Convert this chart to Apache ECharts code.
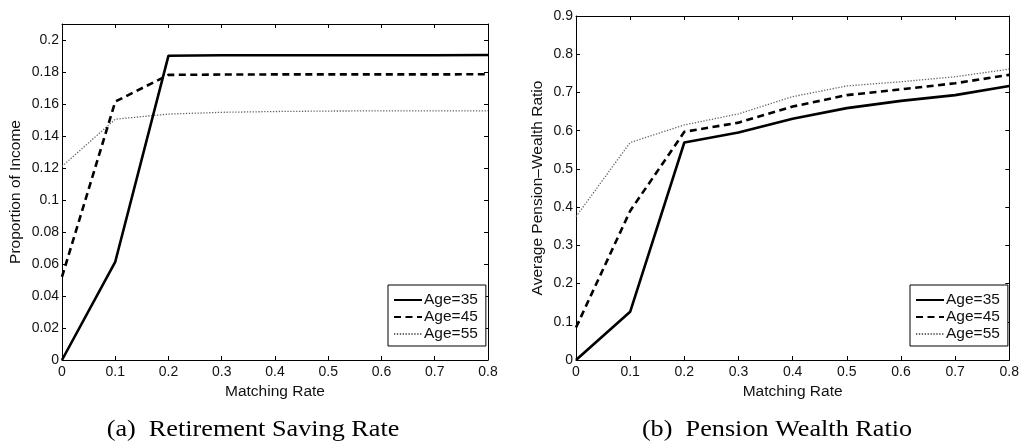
<!DOCTYPE html>
<html>
<head>
<meta charset="utf-8">
<script src="https://cdn.jsdelivr.net/npm/echarts@6/dist/echarts.min.js"></script>
<style>
  html, body { margin: 0; padding: 0; background: #fff; }
  #chart { width: 1022px; height: 441px; }
</style>
</head>
<body>
<div id="chart"></div>
<script>
// Employer matching rate (x axis of both panels)
const matchRates = [0, 0.1, 0.2, 0.3, 0.4, 0.5, 0.6, 0.7, 0.8];

// Panel (a): retirement saving as a proportion of income
const savingAge35 = [0, 0.0614, 0.1902, 0.1905, 0.1905, 0.1905, 0.1905, 0.1905, 0.1906];
const savingAge45 = [0.052, 0.1615, 0.1782, 0.1784, 0.1785, 0.1785, 0.1785, 0.1785, 0.1786];
const savingAge55 = [0.121, 0.1505, 0.1537, 0.1548, 0.1553, 0.1556, 0.1557, 0.1557, 0.1557];

// Panel (b): average pension-wealth ratio
const pensionAge35 = [0, 0.126, 0.569, 0.595, 0.631, 0.659, 0.678, 0.693, 0.717];
const pensionAge45 = [0.085, 0.39, 0.597, 0.621, 0.663, 0.693, 0.708, 0.724, 0.746];
const pensionAge55 = [0.375, 0.569, 0.615, 0.644, 0.689, 0.717, 0.728, 0.741, 0.761];

const seriesNames = ['Age=35', 'Age=45', 'Age=55'];
const xTicks = { min: 0, max: 0.8, interval: 0.1 };
const captions = ['(a)\u2002Retirement Saving Rate', '(b)\u2002Pension Wealth Ratio'];
const yNames = ['Proportion of Income', 'Average Pension\u2013Wealth Ratio'];

const FONT = '"Liberation Sans", Arial, Helvetica, sans-serif';
const SERIF = '"Liberation Serif", "Times New Roman", serif';
const lineStyles = [
  { color: '#000', width: 2.6, type: 'solid' },
  { color: '#000', width: 2.6, type: [7, 4.5] },
  { color: '#666', width: 1.3, type: [1.3, 1.6] }
];

const fmt = v => String(+v.toFixed(2));
const frameLine = { show: true, onZero: false, lineStyle: { color: '#000', width: 1 } };
const innerTick = { show: true, inside: true, length: 4, lineStyle: { color: '#000' } };
const nameStyle = { fontFamily: FONT, fontSize: 15.5, color: '#111' };

function bottomX(grid) {
  return {
    type: 'value', gridIndex: grid, position: 'bottom',
    min: xTicks.min, max: xTicks.max, interval: xTicks.interval,
    name: 'Matching Rate', nameLocation: 'middle', nameGap: 20,
    nameTextStyle: nameStyle,
    axisLine: frameLine, axisTick: innerTick,
    axisLabel: { fontFamily: FONT, fontSize: 14, color: '#111', margin: 5, formatter: fmt },
    splitLine: { show: false }
  };
}
function topX(grid) {
  return {
    type: 'value', gridIndex: grid, position: 'top',
    min: xTicks.min, max: xTicks.max, interval: xTicks.interval,
    axisLine: frameLine, axisTick: innerTick,
    axisLabel: { show: false }, splitLine: { show: false }
  };
}
function leftY(grid, max, interval, name, gap) {
  return {
    type: 'value', gridIndex: grid, position: 'left',
    min: 0, max: max, interval: interval,
    name: name, nameLocation: 'middle', nameGap: gap,
    nameTextStyle: nameStyle,
    axisLine: frameLine, axisTick: innerTick,
    axisLabel: { fontFamily: FONT, fontSize: 14, color: '#111', margin: 3, formatter: fmt, showMaxLabel: max === 0.9 },
    splitLine: { show: false }
  };
}
function rightY(grid, max, interval) {
  return {
    type: 'value', gridIndex: grid, position: 'right',
    min: 0, max: max, interval: interval,
    axisLine: frameLine, axisTick: innerTick,
    axisLabel: { show: false }, splitLine: { show: false }
  };
}

function makeSeries(values, idx, axisIdx) {
  return {
    name: seriesNames[idx], type: 'line',
    xAxisIndex: axisIdx, yAxisIndex: axisIdx,
    data: matchRates.map((x, i) => [x, values[i]]),
    showSymbol: false, symbol: 'none', animation: false, silent: true,
    lineStyle: lineStyles[idx], itemStyle: { color: lineStyles[idx].color },
    z: 10 - idx
  };
}

function legendAt(left) {
  return {
    orient: 'vertical', left: left, top: 285,
    data: seriesNames,
    itemWidth: 28, itemHeight: 15, itemGap: 1,
    padding: [7, 8, 4, 5],
    backgroundColor: '#fff', borderColor: '#000', borderWidth: 1, borderRadius: 0,
    itemStyle: { opacity: 0 },
    textStyle: { fontFamily: FONT, fontSize: 15.5, color: '#111', padding: [0, 0, 0, -3] },
    selectedMode: false
  };
}

function caption(text, cx) {
  return {
    type: 'text', x: cx, y: 441, scaleX: 1.14, silent: true,
    style: { text: text, fontFamily: SERIF, fontSize: 23, fill: '#000',
             textAlign: 'center', textVerticalAlign: 'bottom' }
  };
}

const chart = echarts.init(document.getElementById('chart'), null, { renderer: 'canvas' });
chart.setOption({
  animation: false,
  backgroundColor: '#fff',
  grid: [
    { left: 62, right: 534, top: 24, bottom: 81 },
    { left: 576, right: 11, top: 16, bottom: 81 }
  ],
  xAxis: [bottomX(0), topX(0), bottomX(1), topX(1)],
  yAxis: [
    leftY(0, 0.21, 0.02, yNames[0], 38), rightY(0, 0.21, 0.02),
    leftY(1, 0.9, 0.1, yNames[1], 30), rightY(1, 0.9, 0.1)
  ],
  legend: [legendAt(388), legendAt(910)],
  series: [
    makeSeries(savingAge35, 0, 0),
    makeSeries(savingAge45, 1, 0),
    makeSeries(savingAge55, 2, 0),
    makeSeries(pensionAge35, 0, 2),
    makeSeries(pensionAge45, 1, 2),
    makeSeries(pensionAge55, 2, 2)
  ],
  graphic: [caption(captions[0], 253), caption(captions[1], 777)]
});
</script>
</body>
</html>
